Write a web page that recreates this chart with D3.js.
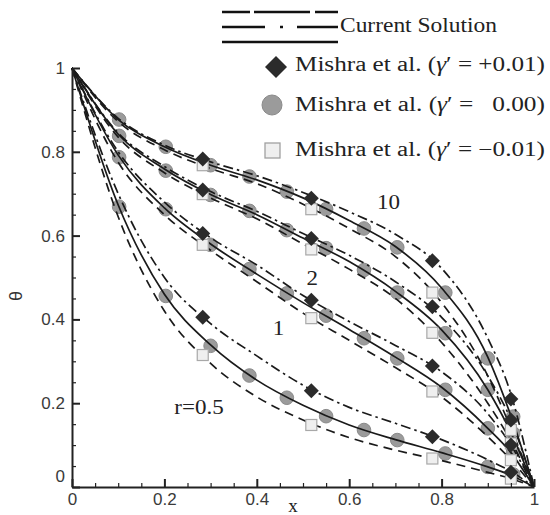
<!DOCTYPE html>
<html><head><meta charset="utf-8">
<script src="https://cdn.jsdelivr.net/npm/d3@7"></script>
<style>body{margin:0;background:#fff}svg{display:block}</style>
</head><body><svg id="c" width="550" height="515"></svg>
<script>
// ---- data ----
const xGrid = [0, 0.1, 0.2, 0.3, 0.4, 0.5, 0.6, 0.7, 0.8, 0.9, 0.95, 1];
const rLabels = ["10", "2", "1", "r=0.5"];
// current solution, gamma' = 0 (solid)
const solid10 = [1, 0.877, 0.812, 0.768, 0.733, 0.690, 0.636, 0.574, 0.475, 0.310, 0.170, 0];
const solid2  = [1, 0.842, 0.759, 0.698, 0.650, 0.594, 0.538, 0.467, 0.375, 0.232, 0.130, 0];
const solid1  = [1, 0.792, 0.666, 0.580, 0.508, 0.440, 0.376, 0.310, 0.238, 0.140, 0.082, 0];
const solid05 = [1, 0.673, 0.460, 0.339, 0.255, 0.195, 0.148, 0.113, 0.082, 0.048, 0.028, 0];
// current solution, gamma' = +0.01 (dash-dot)
const dashdot10 = [1, 0.880, 0.816, 0.776, 0.743, 0.703, 0.657, 0.603, 0.522, 0.355, 0.222, 0];
const dashdot2  = [1, 0.845, 0.765, 0.705, 0.658, 0.605, 0.553, 0.490, 0.405, 0.265, 0.160, 0];
const dashdot1  = [1, 0.800, 0.680, 0.595, 0.530, 0.457, 0.395, 0.338, 0.275, 0.175, 0.100, 0];
const dashdot05 = [1, 0.700, 0.500, 0.390, 0.313, 0.243, 0.190, 0.152, 0.113, 0.065, 0.037, 0];
// current solution, gamma' = -0.01 (dashed)
const dashed10 = [1, 0.872, 0.805, 0.760, 0.724, 0.675, 0.617, 0.550, 0.440, 0.265, 0.140, 0];
const dashed2  = [1, 0.835, 0.750, 0.690, 0.640, 0.580, 0.520, 0.450, 0.345, 0.200, 0.110, 0];
const dashed1  = [1, 0.775, 0.650, 0.565, 0.490, 0.415, 0.350, 0.285, 0.215, 0.120, 0.065, 0];
const dashed05 = [1, 0.645, 0.420, 0.295, 0.215, 0.160, 0.118, 0.088, 0.063, 0.035, 0.020, 0];
// Mishra et al. gamma' = 0 (circles)
const circleX = [0.102, 0.203, 0.300, 0.384, 0.465, 0.550, 0.632, 0.704, 0.808, 0.900, 0.955];
const circle10 = [0.877, 0.812, 0.768, 0.741, 0.705, 0.663, 0.617, 0.572, 0.464, 0.307, 0.168];
const circle2  = [0.838, 0.755, 0.697, 0.659, 0.613, 0.570, 0.518, 0.464, 0.367, 0.232, 0.128];
const circle1  = [0.787, 0.663, 0.578, 0.520, 0.462, 0.409, 0.355, 0.307, 0.232, 0.140, 0.085];
const circle05 = [0.669, 0.456, 0.337, 0.266, 0.213, 0.169, 0.136, 0.112, 0.080, 0.048, 0.030];
// Mishra et al. gamma' = +0.01 (diamonds) and -0.01 (squares)
const markX = [0.283, 0.518, 0.780, 0.950];
const diamond10 = [0.783, 0.689, 0.540, 0.210];
const diamond2  = [0.709, 0.593, 0.430, 0.160];
const diamond1  = [0.605, 0.446, 0.289, 0.100];
const diamond05 = [0.405, 0.230, 0.120, 0.035];
const square10 = [0.768, 0.663, 0.464, 0.136];
const square2  = [0.699, 0.567, 0.368, 0.104];
const square1  = [0.578, 0.403, 0.228, 0.064];
const square05 = [0.315, 0.148, 0.068, 0.020];
const yTicks = [0, 0.2, 0.4, 0.6, 0.8, 1];
const xTicks = [0, 0.2, 0.4, 0.6, 0.8, 1];

// ---- drawing ----
const svg = d3.select("#c");
const x = d3.scaleLinear().domain([0, 1]).range([72, 534]);
const y = d3.scaleLinear().domain([0, 1]).range([487, 68]);
const fmt = d => d3.format("")(+d.toFixed(2));
const minorVals = d3.range(0, 1.0001, 0.05).map(v => +v.toFixed(2)).filter(v => !yTicks.includes(v));

const line = d3.line().x((d, i) => x(xGrid[i])).y(d => y(d)).curve(d3.curveMonotoneX);

// circles first (lines are drawn over them)
const circleSets = [circle10, circle2, circle1, circle05];
const gC = svg.append("g");
circleSets.forEach(set => {
  gC.selectAll(null).data(set).enter().append("circle")
    .attr("cx", (d, i) => x(circleX[i])).attr("cy", d => y(d)).attr("r", 6.8)
    .attr("fill", "#9b9b9b").attr("stroke", "#8a8a8a").attr("stroke-width", 1);
});

const gL = svg.append("g").attr("fill", "none").attr("stroke", "#1a1a1a").attr("stroke-width", 1.7);
[solid10, solid2, solid1, solid05].forEach(s => gL.append("path").attr("d", line(s)));
[dashdot10, dashdot2, dashdot1, dashdot05].forEach(s => gL.append("path").attr("d", line(s)).attr("stroke-dasharray", "10,4,2.5,4"));
[dashed10, dashed2, dashed1, dashed05].forEach(s => gL.append("path").attr("d", line(s)).attr("stroke-dasharray", "9,6"));

const gM = svg.append("g");
[square10, square2, square1, square05].forEach(set => {
  gM.selectAll(null).data(set).enter().append("rect")
    .attr("x", (d, i) => x(markX[i]) - 5.5).attr("y", d => y(d) - 5.5)
    .attr("width", 11).attr("height", 11)
    .attr("fill", "#efefef").attr("stroke", "#a8a8a8").attr("stroke-width", 1.2);
});
const diamondPath = s => `M0,${-s}L${s},0L0,${s}L${-s},0Z`;
[diamond10, diamond2, diamond1, diamond05].forEach(set => {
  gM.selectAll(null).data(set).enter().append("path")
    .attr("d", diamondPath(7.5))
    .attr("transform", (d, i) => `translate(${x(markX[i])},${y(d)})`)
    .attr("fill", "#2b2b2b");
});

// axes
const axStyle = g => {
  g.selectAll("path,line").attr("stroke", "#222").attr("stroke-width", 2);
  g.selectAll("text").attr("fill", "#3a3a3a").attr("font-family", "Liberation Sans, Arial, sans-serif").attr("font-size", 17);
};
const yAx = svg.append("g").attr("transform", "translate(72,0)")
  .call(d3.axisLeft(y).tickValues(yTicks).tickFormat(fmt).tickSize(-8).tickSizeOuter(0).tickPadding(7));
yAx.selectAll(".tick text").filter(d => d === 0).attr("dy", "-0.35em");
axStyle(yAx);
const yMin = svg.append("g").attr("transform", "translate(72,0)")
  .call(d3.axisLeft(y).tickValues(minorVals).tickFormat("").tickSize(-4).tickSizeOuter(0));
yMin.select(".domain").remove();
axStyle(yMin); yMin.selectAll("line").attr("stroke-width", 1.2);

const xAx = svg.append("g").attr("transform", "translate(0,487)")
  .call(d3.axisBottom(x).tickValues(xTicks).tickFormat(fmt).tickSize(-8).tickSizeOuter(0).tickPadding(6));
axStyle(xAx);
const xMin = svg.append("g").attr("transform", "translate(0,487)")
  .call(d3.axisBottom(x).tickValues(minorVals).tickFormat("").tickSize(-4).tickSizeOuter(0));
xMin.select(".domain").remove();
axStyle(xMin); xMin.selectAll("line").attr("stroke-width", 1.2);

// axis titles
svg.append("text").attr("transform", "translate(22,296) rotate(-90)").attr("text-anchor", "middle")
  .attr("font-family", "Liberation Sans, Arial, sans-serif").attr("font-size", 18).attr("fill", "#333").text("θ");
svg.append("text").attr("x", 293).attr("y", 512).attr("text-anchor", "middle")
  .attr("font-family", "Liberation Serif, Times New Roman, serif").attr("font-size", 19).attr("fill", "#222").text("x");

// curve labels
const serif = "Liberation Serif, Times New Roman, serif";
const labelPos = [[0.685, 0.68], [0.52, 0.5], [0.447, 0.38], [0.275, 0.19]];
rLabels.forEach((t, i) => {
  svg.append("text")
    .attr("transform", `translate(${x(labelPos[i][0])},${y(labelPos[i][1])}) scale(1.15,1)`)
    .attr("text-anchor", "middle").attr("dy", "0.35em")
    .attr("font-family", serif).attr("font-size", 20).attr("fill", "#222").text(t);
});

// legend
const lg = svg.append("g").attr("fill", "none").attr("stroke", "#111").attr("stroke-width", 2.4);
lg.append("line").attr("x1", 222).attr("x2", 338).attr("y1", 12).attr("y2", 12).attr("stroke-dasharray", "28,4,56,5,23");
lg.append("line").attr("x1", 222).attr("x2", 338).attr("y1", 27).attr("y2", 27).attr("stroke-dasharray", "43,15,3,14,41");
lg.append("line").attr("x1", 222).attr("x2", 338).attr("y1", 42).attr("y2", 42);
svg.append("text").attr("x", 340).attr("y", 32).attr("font-family", serif).attr("font-size", 20)
  .attr("fill", "#222").attr("textLength", 157).attr("lengthAdjust", "spacingAndGlyphs").text("Current Solution");

svg.append("path").attr("d", diamondPath(11)).attr("transform", "translate(276,67)").attr("fill", "#2b2b2b");
svg.append("circle").attr("cx", 272).attr("cy", 105).attr("r", 10).attr("fill", "#9b9b9b").attr("stroke", "#8a8a8a");
svg.append("rect").attr("x", 265).attr("y", 143).attr("width", 15).attr("height", 15).attr("fill", "#efefef").attr("stroke", "#a0a0a0").attr("stroke-width", 1.3);

const legVals = ["+0.01", "\u00a0\u00a00.00", "\u22120.01"];
const legY = [71, 111, 156];
legVals.forEach((v, i) => {
  const t = svg.append("text").attr("x", 295).attr("y", legY[i]).attr("font-family", serif)
    .attr("font-size", 20).attr("fill", "#222").attr("textLength", 250).attr("lengthAdjust", "spacingAndGlyphs");
  t.append("tspan").text("Mishra et al. (");
  t.append("tspan").attr("font-style", "italic").text("γ");
  t.append("tspan").text("\u2032 = " + v + ")");
});
</script></body></html>
